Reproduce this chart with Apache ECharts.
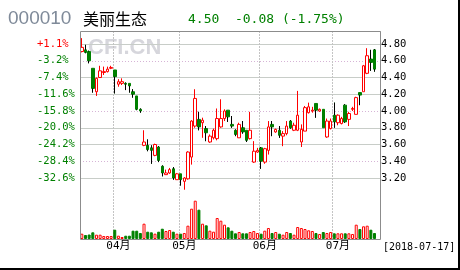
<!DOCTYPE html>
<html><head><meta charset="utf-8">
<script src="https://cdn.jsdelivr.net/npm/echarts@6/dist/echarts.min.js"></script>
<style>html,body{margin:0;padding:0;background:#fff}#c{width:460px;height:270px}</style>
</head><body><div id="c"></div>
<script>
// ---- data ----
const stockCode = '000010';
const stockName = '美丽生态';
const quoteText = '4.50  -0.08 (-1.75%)';
const lastDate = '[2018-07-17]';
const watermark = 'CFI.CN';

const days03 = [20,21,22,23,26,27,28,29,30];
const days04 = [2,3,4,9,10,11,12,13,16,17,18,19,20,23,24,25,26,27];
const days05 = [2,3,4,7,8,9,10,11,14,15,16,17,18,21,22,23,24,25,28,29,30,31];
const days06 = [1,4,5,6,7,8,11,12,13,14,15,19,20,21,22,25,26,27,28,29];
const days07 = [2,3,4,5,6,9,10,11,12,13,16,17];

const opens  = [4.71,4.73,4.71,4.51,4.23,4.40,4.46,4.47,4.51,
  4.49,4.32,4.33,4.33,4.33,4.23,4.18,4.02,3.59,3.59,3.56,3.47,3.57,3.34,3.24,3.26,3.31,3.18,
  3.25,3.16,3.19,3.45,3.82,3.90,3.86,3.79,3.63,3.68,3.67,3.81,3.91,4.01,3.84,3.77,3.68,3.80,3.77,3.67,3.39,3.51,
  3.56,3.39,3.53,3.84,3.75,3.77,3.70,3.73,3.88,3.77,3.77,3.63,3.76,3.98,4.00,4.09,4.00,4.02,3.69,3.79,
  3.95,3.86,3.85,4.07,3.90,4.02,3.96,4.22,4.23,4.45,4.62,4.73];
const closes = [4.76,4.70,4.60,4.27,4.39,4.48,4.47,4.50,4.52,
  4.41,4.35,4.35,4.32,4.30,4.20,4.02,4.00,3.63,3.54,3.53,3.60,3.41,3.26,3.26,3.30,3.20,3.25,
  3.18,3.20,3.51,3.88,4.15,3.81,3.89,3.74,3.70,3.77,3.91,3.91,4.00,3.93,3.82,3.72,3.84,3.75,3.65,3.77,3.52,3.53,
  3.40,3.55,3.81,3.81,3.78,3.71,3.73,3.82,3.80,3.83,3.95,3.78,4.04,4.05,4.01,4.01,4.02,3.80,3.88,3.88,
  3.87,3.95,3.91,3.87,3.97,4.03,4.16,4.19,4.54,4.66,4.58,4.50];
const lows   = [4.70,4.69,4.57,4.22,4.18,4.40,4.43,4.46,4.50,
  4.21,4.29,4.31,4.25,4.22,4.16,4.01,3.98,3.58,3.52,3.37,3.46,3.39,3.22,3.24,3.25,3.18,3.18,
  3.11,3.06,3.18,3.36,3.80,3.77,3.68,3.64,3.62,3.66,3.65,3.80,3.88,3.87,3.80,3.70,3.68,3.73,3.63,3.66,3.38,3.50,
  3.31,3.37,3.48,3.70,3.74,3.68,3.58,3.71,3.79,3.76,3.76,3.57,3.76,3.97,3.98,3.92,3.99,3.80,3.68,3.78,
  3.80,3.83,3.84,3.86,3.82,4.00,3.96,4.07,4.23,4.44,4.48,4.47];
const highs  = [4.87,4.79,4.72,4.51,4.40,4.54,4.53,4.53,4.54,
  4.49,4.38,4.39,4.34,4.33,4.26,4.18,4.03,3.77,3.66,3.59,3.61,3.58,3.35,3.30,3.32,3.33,3.26,
  3.25,3.21,3.52,3.89,4.26,3.99,3.92,3.82,3.72,3.79,4.03,4.14,4.02,4.01,3.94,3.78,3.86,3.88,3.77,3.99,3.64,3.56,
  3.57,3.56,3.88,3.88,3.79,3.82,3.76,3.88,3.89,3.86,4.24,3.84,4.06,4.10,4.05,4.09,4.03,4.02,3.91,3.91,
  4.10,3.96,3.93,4.08,3.99,4.05,4.17,4.22,4.55,4.75,4.73,4.74];
const volumes = [5.3,4,4.5,6.7,4.3,4.3,3,3,3,
  9.3,3.3,2,3.3,3.3,8.3,8.3,6,15.3,7.3,6.7,5.3,7.3,10.3,8,9,7.3,5.3,
  5.3,6,13.3,30.3,38.3,29.3,15.3,13.7,8.3,7.3,21,18.3,14.3,11.7,8.3,5.7,7,5.7,5.7,7,8,6,
  5.3,8.3,11,6,7,5.3,4.3,7,6,4.3,12,11,10,8.7,8,6,5,7,6,7,
  5.7,5.7,5.7,5.7,5.7,5,14.3,10,12.7,13.3,9.3,6];

const priceTicks = ['3.20','3.40','3.60','3.80','4.00','4.20','4.40','4.60','4.80'];
const pctTicks   = ['-32.6%','-28.4%','-24.2%','-20.0%','-15.8%','-11.6%','-7.4%','-3.2%','+1.1%'];

// ---- build ----
const RED = '#ff0000', GREEN = '#008000';
const cats = [];
[['03',days03],['04',days04],['05',days05],['06',days06],['07',days07]].forEach(function(p){
  p[1].forEach(function(d){ cats.push('2018-' + p[0] + '-' + (d < 10 ? '0' + d : '' + d)); });
});
const axisCats = cats.concat(['']);
const monthStart = {};
cats.forEach(function(d, i){ if (i > 0 && d.slice(5,7) !== cats[i-1].slice(5,7)) monthStart[i] = true; });

const kData = opens.map(function(o, i){ return [o, closes[i], lows[i], highs[i]]; });
const downWicks = [];
opens.forEach(function(o, i){ if (closes[i] < o) downWicks.push([i, o, closes[i], lows[i], highs[i]]); });
const volData = volumes.map(function(v, i){
  const up = closes[i] >= opens[i];
  return { value: v, itemStyle: { color: up ? '#ffffff' : GREEN, borderColor: up ? RED : GREEN } };
});
function tickIdx(v){ return Math.round((Number(v) - 3.2) / 0.2); }
function crisp(x){ const d = Math.round(x * 2); return (d + 1) % 2 === 0 ? d / 2 : (d - 1) / 2; }

const MONO = "'DejaVu Sans Mono','Noto Sans CJK SC',monospace";

const chart = echarts.init(document.getElementById('c'));
chart.setOption({
  animation: false,
  backgroundColor: '#ffffff',
  grid: [
    { left: 80, top: 31, width: 300, height: 208, outerBoundsMode: 'none' },
    { left: 80, top: 44, width: 300, height: 134, outerBoundsMode: 'none' },
    { left: 80, top: 199, width: 300, height: 40, outerBoundsMode: 'none' }
  ],
  xAxis: [
    { type: 'category', gridIndex: 0, data: axisCats, boundaryGap: true,
      axisLine: { show: false }, axisTick: { show: false },
      splitLine: { show: true, interval: function(i){ return !!monthStart[i]; },
        lineStyle: { color: '#c4c4c4', width: 1, type: [2, 1] } },
      axisLabel: { interval: function(i){ return !!monthStart[i - 1]; },
        formatter: function(v, i){ return cats[i - 1] ? cats[i - 1].slice(5, 7) + '月' : ''; },
        margin: 2, fontSize: 11, fontFamily: MONO, color: '#000' } },
    { type: 'category', gridIndex: 1, data: axisCats, boundaryGap: true, show: false },
    { type: 'category', gridIndex: 2, data: axisCats, boundaryGap: true, show: false }
  ],
  yAxis: [
    { type: 'value', gridIndex: 0, show: false, splitLine: { show: false } },
    { type: 'value', gridIndex: 1, position: 'left', min: 3.2, max: 4.8, interval: 0.2,
      axisLine: { show: false }, axisTick: { show: false },
      axisLabel: { align: 'left', margin: 43, fontSize: 10.5, fontFamily: MONO,
        formatter: function(v){ return pctTicks[tickIdx(v)]; },
        color: function(v){ const t = pctTicks[tickIdx(v)] || ''; return t.charAt(0) === '+' ? RED : GREEN; } },
      splitLine: { show: true, lineStyle: { color: ['rgba(0,0,0,0)', '#d6b4d6', 'rgba(0,0,0,0)'], type: [1, 2], width: 1 } } },
    { type: 'value', gridIndex: 1, position: 'right', min: 3.2, max: 4.8, interval: 0.2,
      axisLine: { show: false }, axisTick: { show: false },
      axisLabel: { margin: 1, fontSize: 10.5, fontFamily: MONO, color: '#000',
        formatter: function(v){ return priceTicks[tickIdx(v)]; } },
      splitLine: { show: true, lineStyle: { color: ['#c8cdc8', 'rgba(0,0,0,0)', '#c8cdc8'], width: 1 } } },
    { type: 'value', gridIndex: 2, min: 0, max: 40, show: false, splitLine: { show: false } }
  ],
  series: [
    { type: 'candlestick', xAxisIndex: 1, yAxisIndex: 1, data: kData, barWidth: 3, clip: false,
      itemStyle: { color: '#ffffff', color0: GREEN, borderColor: RED, borderColor0: GREEN, borderWidth: 1 } },
    { type: 'custom', xAxisIndex: 1, yAxisIndex: 1, data: downWicks, z: 3, clip: false,
      encode: { x: 0, y: [1, 2, 3, 4] },
      renderItem: function(params, api){
        const i = api.value(0), o = api.value(1), c = api.value(2), l = api.value(3), h = api.value(4);
        const pH = api.coord([i, h]), pT = api.coord([i, Math.max(o, c)]);
        const pB = api.coord([i, Math.min(o, c)]), pL = api.coord([i, l]);
        const x = crisp(pH[0]);
        return { type: 'group', children: [
          { type: 'line', shape: { x1: x, y1: pH[1], x2: x, y2: pT[1] }, style: { stroke: '#000', lineWidth: 1 } },
          { type: 'line', shape: { x1: x, y1: pB[1], x2: x, y2: pL[1] }, style: { stroke: '#000', lineWidth: 1 } }
        ] };
      } },
    { type: 'bar', xAxisIndex: 2, yAxisIndex: 3, data: volData, barWidth: 3,
      itemStyle: { borderWidth: 1 } }
  ],
  graphic: [
    { type: 'text', z: 0, style: { text: watermark, x: 88, y: 48, fill: '#d6d6dc',
      font: 'bold 22px "Liberation Sans", Arial, sans-serif', textVerticalAlign: 'middle' } },
    { type: 'rect', z: 50, shape: { x: 80.5, y: 31.5, width: 300, height: 208 },
      style: { fill: 'none', stroke: '#8c8c8c', lineWidth: 1 } },
    { type: 'text', z: 50, style: { text: stockCode, x: 8, y: 19, fill: '#7f8a99',
      font: '19px "Liberation Sans", Arial, sans-serif', textVerticalAlign: 'middle' } },
    { type: 'text', z: 50, style: { text: stockName, x: 83, y: 19, fill: '#000',
      font: '16px "Noto Sans CJK SC", sans-serif', textVerticalAlign: 'middle' } },
    { type: 'text', z: 50, style: { text: quoteText, x: 188, y: 20, fill: GREEN,
      font: '13px "DejaVu Sans Mono", monospace', textVerticalAlign: 'middle' } },
    { type: 'text', z: 50, style: { text: lastDate, x: 383, y: 247, fill: '#000',
      font: '10px "DejaVu Sans Mono", monospace', textVerticalAlign: 'middle' } },
    { type: 'rect', z: 50, shape: { x: 458, y: 0, width: 2, height: 270 }, style: { fill: '#000' } },
    { type: 'rect', z: 50, shape: { x: 0, y: 268, width: 460, height: 2 }, style: { fill: '#000' } }
  ]
});
</script></body></html>
